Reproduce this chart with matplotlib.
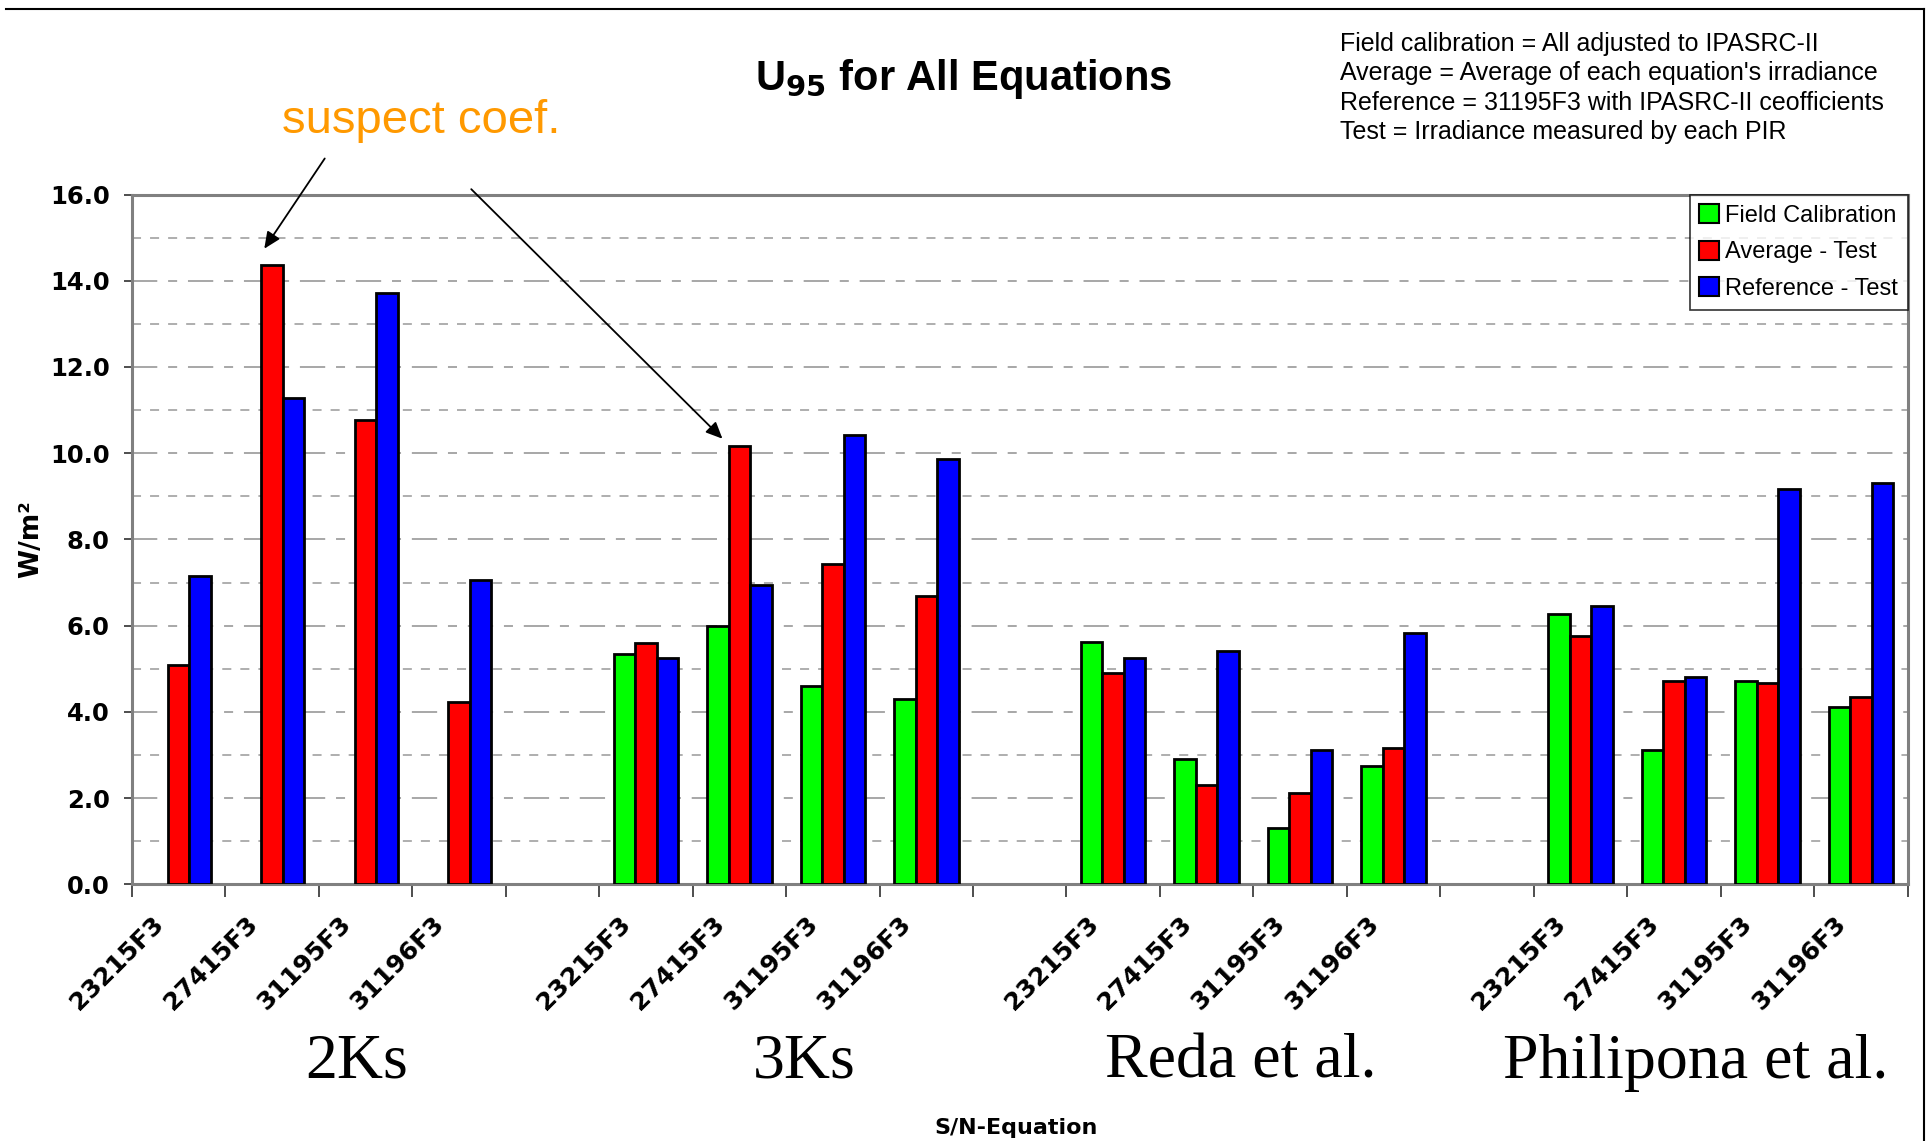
import numpy as np
import matplotlib
matplotlib.use("Agg")
import matplotlib.pyplot as plt
import matplotlib.transforms as mtransforms
from matplotlib.lines import Line2D

groups = ["2Ks", "3Ks", "Reda et al.", "Philipona et al."]
serials = ["23215F3", "27415F3", "31195F3", "31196F3"]

field_cal = [0, 0, 0, 0,
             5.34, 6.00, 4.60, 4.29,
             5.63, 2.91, 1.31, 2.74,
             6.26, 3.11, 4.71, 4.11]
avg_test = [5.09, 14.37, 10.77, 4.23,
            5.60, 10.17, 7.43, 6.69,
            4.89, 2.31, 2.11, 3.17,
            5.77, 4.71, 4.66, 4.34]
ref_test = [7.14, 11.29, 13.71, 7.06,
            5.26, 6.94, 10.43, 9.86,
            5.26, 5.40, 3.11, 5.83,
            6.46, 4.80, 9.17, 9.31]

notes = ["Field calibration = All adjusted to IPASRC-II",
         "Average = Average of each equation's irradiance",
         "Reference = 31195F3 with IPASRC-II ceofficients",
         "Test = Irradiance measured by each PIR"]

# slot positions: 4 bars per group, one empty slot between groups
pos = []
for g in range(len(groups)):
    for s in range(len(serials)):
        pos.append(g * 5 + s)
pos = np.array(pos, dtype=float)

fig = plt.figure(figsize=(19.31, 11.41), dpi=100)
ax = fig.add_axes([0.0683, 0.225, 0.9196, 0.6045])

w = 0.23
green_lw = [0 if v == 0 else 2 for v in field_cal]
ax.bar(pos - w, field_cal, w, color="#00ff00", edgecolor="black", linewidth=green_lw, label="Field Calibration", zorder=3)
ax.bar(pos, avg_test, w, color="#ff0000", edgecolor="black", linewidth=2, label="Average - Test", zorder=3)
ax.bar(pos + w, ref_test, w, color="#0000ff", edgecolor="black", linewidth=2, label="Reference - Test", zorder=3)

ax.set_xlim(-0.5, 18.5)
ax.set_ylim(0, 16)
ax.set_yticks(np.arange(0, 17, 2))
ax.set_yticks(np.arange(1, 16, 2), minor=True)
ax.set_yticklabels(["%.1f" % v for v in np.arange(0, 17, 2)], fontsize=17.5, fontweight="bold")
ax.grid(axis="y", which="major", color="#a0a0a0", linestyle=(0, (14, 6, 5, 6)), linewidth=1.3, zorder=0)
ax.grid(axis="y", which="minor", color="#a8a8a8", linestyle=(0, (5, 5)), linewidth=1.3, zorder=0)

# labels sit slightly left of the slot centre, like the original
ax.set_xticks(pos - 0.2)
ax.set_xticklabels(serials * len(groups), rotation=45, ha="right", va="center",
                   rotation_mode="anchor", fontsize=18, fontweight="bold")
ax.set_xticks(np.arange(-0.5, 19, 1), minor=True)
ax.tick_params(axis="x", which="major", length=0, pad=26)
ax.tick_params(axis="x", which="minor", length=9, width=1.3, color="#404040")
ax.tick_params(axis="y", which="major", length=6, width=1.3, color="#404040", pad=10)
ax.tick_params(axis="y", which="minor", length=0)
for sp in ax.spines.values():
    sp.set_color("#808080")
    sp.set_linewidth(2.2)

ax.set_ylabel("W/m²", fontsize=19, fontweight="bold", labelpad=4)

leg = ax.legend(loc="upper right", borderaxespad=0, prop={"family": "Liberation Sans", "size": 17},
                frameon=True, fancybox=False, handlelength=0.85, handleheight=0.85,
                handletextpad=0.25, labelspacing=0.6, borderpad=0.4, edgecolor="black")
leg.get_frame().set_linewidth(1.2)
for h in leg.legend_handles:
    h.set_linewidth(1.5)
    h.set_edgecolor("black")

fig.text(0.499, 0.931, r"U$_{\mathbf{95}}$ for All Equations", ha="center", va="center",
         fontsize=30, fontweight="bold", family="Liberation Sans")

fig.text(0.694, 0.972, "\n".join(notes), ha="left", va="top", fontsize=18,
         family="Liberation Sans", linespacing=1.28)

fig.text(0.218, 0.8834, "suspect coef.", ha="center", va="baseline", fontsize=34,
         color="#ff9900", family="Liberation Sans")

arrow = dict(arrowstyle="-|>,head_length=1.0,head_width=0.45", color="black", lw=1.3)
ax.annotate("", xy=(0.9, 14.69), xytext=(1.58, 16.89), arrowprops=arrow, annotation_clip=False)
ax.annotate("", xy=(5.84, 10.29), xytext=(3.11, 16.17), arrowprops=arrow, annotation_clip=False)

group_x = [1.90, 6.69, 11.36, 16.23]
blend = mtransforms.blended_transform_factory(ax.transData, fig.transFigure)
for gx, name in zip(group_x, groups):
    ax.text(gx, 0.0556, name, transform=blend, ha="center", va="baseline",
            fontsize=46, family="Liberation Serif")

fig.text(0.526, 0.0114, "S/N-Equation", ha="center", va="center", fontsize=16, fontweight="bold")

# picture frame
fig.add_artist(Line2D([0.003, 0.9965], [0.9925, 0.9925], color="black", lw=1.5))
fig.add_artist(Line2D([0.9965, 0.9965], [0.0, 0.9925], color="black", lw=1.5))

fig.savefig("out.png", dpi=100)
